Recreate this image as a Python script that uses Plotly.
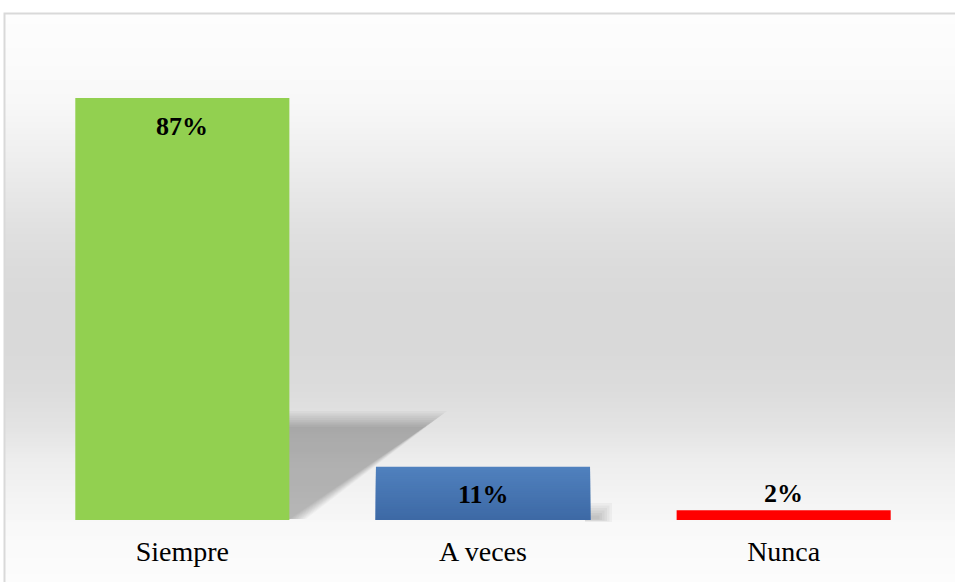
import numpy as np
import plotly.graph_objects as go

# Survey answers and their share of responses (%)
categories = ["Siempre", "A veces", "Nunca"]
values = [87, 11, 2]
bar_colors = ["#92d050", "#4a7bb7", "#ff0000"]
label_texts = ["87%", "11%", "2%"]

W, H = 955, 582
L, R, T, B = 32, 934, 35, 520  # plot area in pixels
Y_MAX = 100


def px(x):
    return (x - L) / (R - L)


def py(y):
    return (B - y) / (B - T)


shapes = []

# vertical grey gradient behind the chart
stops_y = [13, 60, 100, 150, 190, 230, 270, 300, 350, 390, 430, 460, 500, 519, 522, 550, 582]
stops_v = [253, 251, 248, 240, 232, 224, 219, 217, 217, 220, 228, 237, 244, 246, 249, 250, 252]
step = 2
for y0 in range(14, H, step):
    g = int(round(np.interp(y0 + step / 2, stops_y, stops_v)))
    shapes.append(dict(
        type="rect", xref="paper", yref="paper", layer="below",
        x0=px(5), x1=px(W + 5), y0=py(y0), y1=py(y0 + step + 0.5),
        fillcolor=f"rgb({g},{g},{g})", line=dict(width=0),
    ))

# soft perspective shadow cast by the first bar
n_layers = 10
for k in range(n_layers):
    d = -8 + 16 * k / (n_layers - 1)
    pts = [(280, 519), (280, 419 + d), (436 - d * 1.4, 419 + d), (298 - d, 519)]
    path = "M " + " L ".join(f"{px(a):.5f},{py(b):.5f}" for a, b in pts) + " Z"
    shapes.append(dict(
        type="path", xref="paper", yref="paper", layer="below", path=path,
        fillcolor="rgba(0,0,0,0.026)", line=dict(width=0),
    ))

# small soft shadow at the foot of the second bar
for k in range(6):
    d = k * 2.5
    shapes.append(dict(
        type="rect", xref="paper", yref="paper", layer="below",
        x0=px(585), x1=px(612 - d), y0=py(522 - d * 0.2), y1=py(503 + d),
        fillcolor="rgba(0,0,0,0.035)", line=dict(width=0),
    ))

# outer frame of the chart area
shapes.append(dict(
    type="rect", xref="paper", yref="paper", layer="above",
    x0=px(4.5), x1=px(W + 10), y0=py(13.5), y1=py(H + 10),
    line=dict(color="#d9d9d9", width=2), fillcolor="rgba(0,0,0,0)",
))

fig = go.Figure()

# main bars; the blue one gets a vertical gradient from nested bars
# (tallest drawn first, each shorter one painted over it)
for i, (cat, v, col) in enumerate(zip(categories, values, bar_colors)):
    if cat == "A veces":
        n = 30
        top_c = np.array([80, 129, 190])
        bot_c = np.array([61, 105, 165])
        for s in range(n, 0, -1):
            t = (s - 0.5) / n
            c = bot_c + (top_c - bot_c) * t
            fig.add_trace(go.Bar(
                x=[cat], y=[v * s / n], base=[0],
                marker=dict(color=f"rgb({c[0]:.0f},{c[1]:.0f},{c[2]:.0f})", line=dict(width=0)),
                width=0.712, showlegend=False, hoverinfo="skip",
            ))
    else:
        fig.add_trace(go.Bar(
            x=[cat], y=[v], base=[0],
            marker=dict(color=col, line=dict(width=0)),
            width=0.712, showlegend=False, hoverinfo="skip",
        ))

# value labels: inside the top of tall bars, above short ones
annotations = []
for cat, v, txt in zip(categories, values, label_texts):
    inside = v >= 10
    annotations.append(dict(
        x=cat, y=v, xref="x", yref="y", text=f"<b>{txt}</b>", showarrow=False,
        yanchor="middle", yshift=-28 if inside else 17,
        font=dict(family="Liberation Serif, Times New Roman, serif", size=26, color="black"),
    ))

fig.update_layout(
    width=W, height=H,
    margin=dict(l=L, r=W - R, t=T, b=H - B),
    paper_bgcolor="white", plot_bgcolor="rgba(0,0,0,0)",
    barmode="overlay", bargap=0.288,
    shapes=shapes, annotations=annotations,
    xaxis=dict(
        type="category", categoryorder="array", categoryarray=categories,
        range=[-0.5, 2.5], showgrid=False, zeroline=False, showline=False,
        ticks="", ticklabelstandoff=12,
        tickfont=dict(family="Liberation Serif, Times New Roman, serif", size=28, color="black"),
    ),
    yaxis=dict(range=[0, Y_MAX], visible=False, showgrid=False, zeroline=False),
)

fig.write_html("out.html")
